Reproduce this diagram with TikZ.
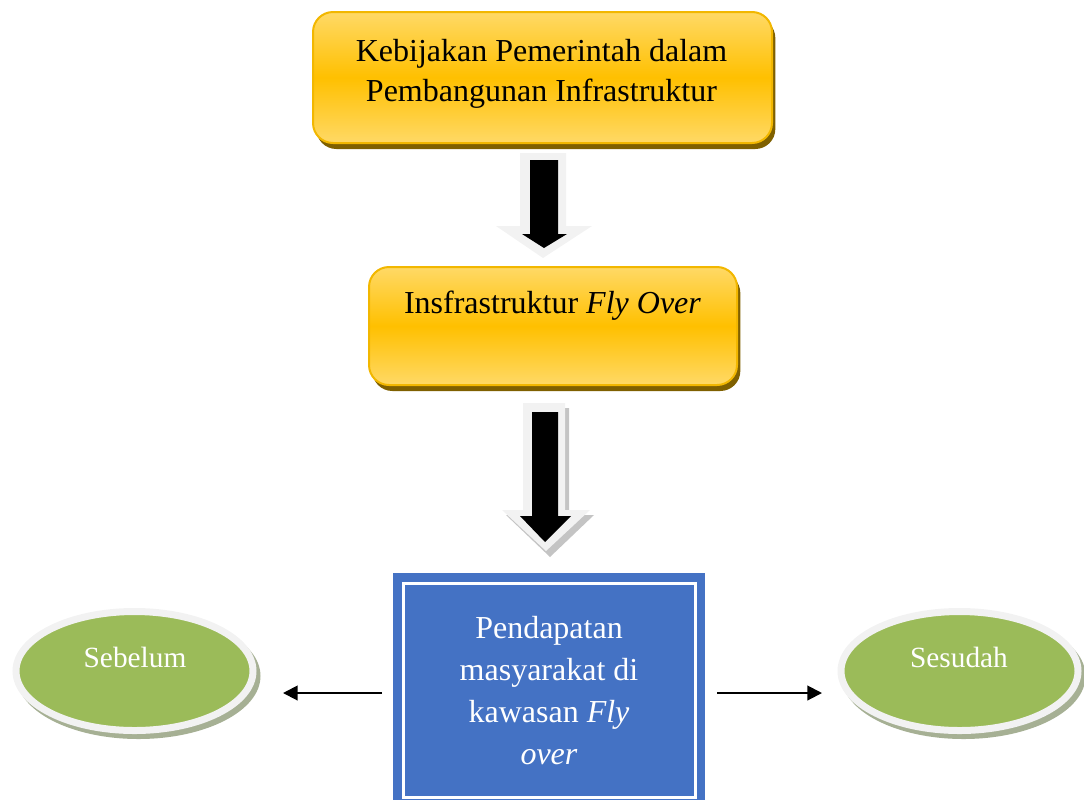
\documentclass[tikz,border=0pt]{standalone}
\usepackage{fontspec}
\setmainfont{Liberation Serif}
\usetikzlibrary{shapes.geometric,shadows,calc,arrows.meta}
\definecolor{ylight}{HTML}{FFD966}
\definecolor{ymid}{HTML}{FFC000}
\definecolor{yborder}{HTML}{F2B700}
\definecolor{yshadow}{HTML}{7F6000}
\definecolor{bluefill}{HTML}{4472C4}
\definecolor{greenfill}{HTML}{9BBB59}
\definecolor{ringgray}{HTML}{F2F2F2}
\definecolor{ringshadow}{HTML}{A6B094}
\definecolor{arrowgray}{HTML}{F2F2F2}
\definecolor{arrowshadow}{HTML}{C4C4C4}
\begin{document}
\begin{tikzpicture}[x=0.75pt,y=-0.75pt,
  ybox/.style={rectangle, rounded corners=15pt, draw=yborder, line width=1.5pt,
    top color=ylight, bottom color=ylight, middle color=ymid,
    drop shadow={shadow xshift=2.5pt, shadow yshift=-4.5pt, fill=yshadow, opacity=1},
    inner sep=0pt, outer sep=0pt},
  ytext/.style={font=\fontsize{24}{30}\selectfont, align=center, inner sep=0pt},
  bluebox/.style={rectangle, fill=bluefill, inner sep=0pt, outer sep=0pt,
    minimum width=234pt, minimum height=170.25pt},
  bluetext/.style={font=\fontsize{24}{31.5}\selectfont, align=center, inner sep=0pt, text=white},
  ell/.style={ellipse, fill=greenfill, draw=ringgray, line width=5.25pt,
    minimum width=177.75pt, minimum height=89.25pt, inner sep=0pt, outer sep=0pt},
  elltext/.style={font=\fontsize{22}{26}\selectfont, text=white, inner sep=0pt, anchor=base},
  thinarrow/.style={line width=1.5pt, -{Triangle[length=11pt,width=11pt]}},
]
\useasboundingbox (0,0) rectangle (1084,800);

% yellow boxes
\node[ybox, minimum width=344.25pt, minimum height=98.25pt] (policy) at (542.5,77.5) {};
\node[ytext] (policytxt) at (541.5,74) {Kebijakan Pemerintah dalam\\Pembangunan Infrastruktur};

\node[ybox, minimum width=276pt, minimum height=88.5pt] (flyover) at (553,326) {};
\node[ytext, anchor=base] (flyovertxt) at (552.5,313) {Insfrastruktur \textit{Fly Over}};

% block arrow 1
\fill[arrowgray] (520,153) -- (566,153) -- (566,226) -- (592,226) -- (543,258) -- (496,226) -- (520,226) -- cycle;
\fill[black] (530,160) -- (558,160) -- (558,234) -- (567,234) -- (544,248) -- (522,234) -- (530,234) -- cycle;

% block arrow 2
\fill[arrowshadow] (527,408) -- (569,408) -- (569,515) -- (594,515) -- (550,557) -- (506,515) -- (527,515) -- cycle;
\fill[arrowgray] (523,403) -- (565,403) -- (565,510) -- (590,510) -- (546,551) -- (502,510) -- (523,510) -- cycle;
\fill[black] (532,412) -- (558,412) -- (558,516) -- (571,516) -- (545,542) -- (520,516) -- (532,516) -- cycle;

% blue box
\node[bluebox] (blue) at (549,686.5) {};
\draw[white, line width=2.25pt] ([shift={(10,10)}]blue.north west) rectangle ([shift={(-10,-3)}]blue.south east);
\node[bluetext] (bluetxt) at (549,691) {Pendapatan\\masyarakat di\\kawasan \textit{Fly}\\\textit{over}};

% ellipses
\coordinate (cS) at (134.5,671);
\coordinate (cA) at (959.5,671);
\fill[ringshadow] ([shift={(4,5)}]cS) ellipse [x radius=91.5pt, y radius=47.25pt];
\fill[ringshadow] ([shift={(4,5)}]cA) ellipse [x radius=91.5pt, y radius=47.25pt];
\node[ell] (sebelum) at (cS) {};
\node[ell] (sesudah) at (cA) {};
\node[elltext] (sebelumtxt) at (135,667) {Sebelum};
\node[elltext] (sesudahtxt) at (959,667) {Sesudah};

% thin arrows
\draw[thinarrow] ($(blue.west)+(-11,6.5)$) -- ($(sebelum.east |- blue.west)+(30,6.5)$);
\draw[thinarrow] ($(blue.east)+(12,6.5)$) -- ($(sesudah.west |- blue.east)+(-19,6.5)$);
\end{tikzpicture}
\end{document}
